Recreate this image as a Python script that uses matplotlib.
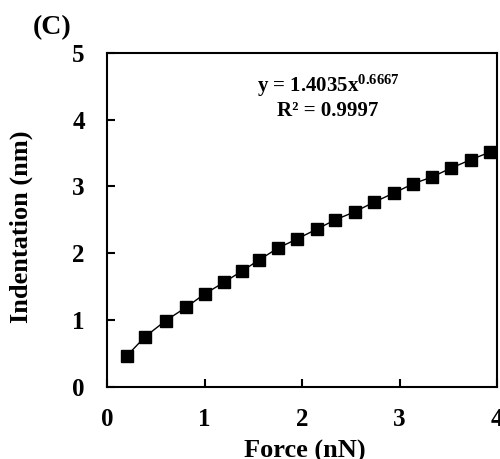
import matplotlib
matplotlib.use("Agg")
import matplotlib.pyplot as plt

# force (nN) vs indentation (nm)
force = [0.20, 0.39, 0.60, 0.81, 1.00, 1.20, 1.385, 1.56, 1.75, 1.95,
         2.15, 2.34, 2.54, 2.74, 2.94, 3.14, 3.33, 3.53, 3.73, 3.93]
indent = [0.46, 0.75, 0.99, 1.19, 1.39, 1.565, 1.735, 1.90, 2.075, 2.215,
          2.36, 2.50, 2.62, 2.765, 2.90, 3.04, 3.14, 3.275, 3.40, 3.515]

fit_label = r"y = 1.4035x$^{\mathbf{0.6667}}$"
r2_label = "R² = 0.9997"

plt.rcParams["font.family"] = "Liberation Serif"
plt.rcParams["font.weight"] = "bold"
plt.rcParams["mathtext.fontset"] = "custom"
plt.rcParams["mathtext.rm"] = "Liberation Serif:bold"
plt.rcParams["mathtext.bf"] = "Liberation Serif:bold"
plt.rcParams["mathtext.it"] = "Liberation Serif:bold"

fig = plt.figure(figsize=(5, 4.59), dpi=100)
ax = fig.add_axes([0.214, 0.157, 0.78, 0.728])

ax.plot(force, indent, color="black", lw=1, marker="s", ms=8.5,
        mfc="black", mec="black")

ax.set_xlim(0, 4)
ax.set_ylim(0, 5)
ax.set_xticks([0, 1, 2, 3, 4])
ax.set_yticks([0, 1, 2, 3, 4, 5])
ax.tick_params(direction="in", length=6, width=1.5, labelsize=18)
ax.tick_params(axis="x", pad=15)
ax.tick_params(axis="y", pad=16)
for s in ax.spines.values():
    s.set_linewidth(1.5)

ax.set_xlabel("Force (nN)", fontsize=19, fontweight="bold")
ax.set_ylabel("Indentation (nm)", fontsize=19, fontweight="bold")
ax.xaxis.set_label_coords(0.507, -0.159)
ax.yaxis.set_label_coords(-0.19, 0.479)

ax.text(0.567, 0.90, fit_label, transform=ax.transAxes, ha="center",
        va="center", fontsize=15)
ax.text(0.567, 0.827, r2_label, transform=ax.transAxes, ha="center",
        va="center", fontsize=15, fontweight="bold")

fig.text(0.104, 0.939, "(C)", ha="center", va="center", fontsize=20,
         fontweight="bold")

fig.savefig("out.png", dpi=100)
